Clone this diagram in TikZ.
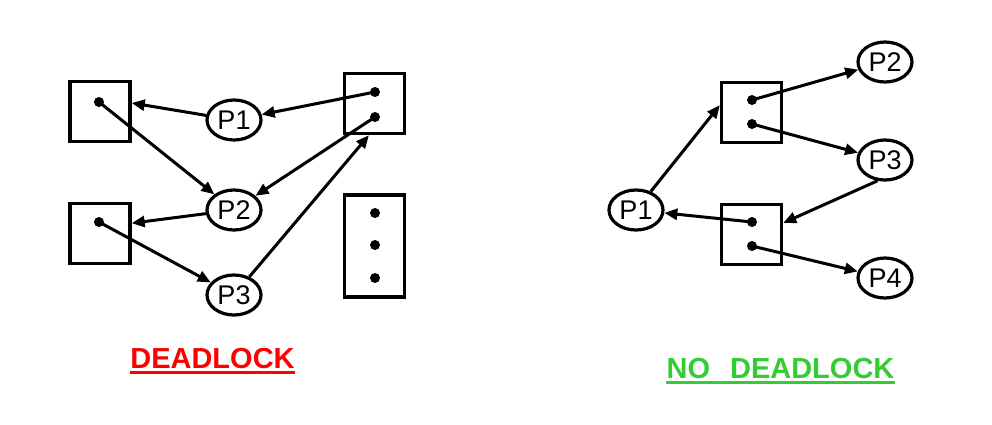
\documentclass[tikz,border=0pt]{standalone}
\usepackage{fontspec}
\setmainfont{Liberation Sans}
\usepackage{xcolor}
\usetikzlibrary{shapes.geometric, arrows.meta, positioning}
\definecolor{dlred}{RGB}{255,0,0}
\definecolor{okgreen}{RGB}{51,204,51}

\begin{document}
\begin{tikzpicture}[
	x=1pt, y=-1pt,
	proc/.style={ellipse, draw, line width=3.2pt, minimum width=54pt, minimum height=40pt, inner sep=0pt, font=\fontsize{27}{27}\selectfont},
	res/.style={rectangle, draw, line width=3.4pt, minimum width=60pt, minimum height=60pt},
	inst/.style={circle, fill, inner sep=0pt, minimum size=10pt},
	arrow/.style={-{Triangle[length=13pt,width=11pt]}, line width=3pt},
	verdict/.style={font=\fontsize{29}{29}\selectfont\bfseries, inner sep=0pt, anchor=base}
	]
	\useasboundingbox (0,0) rectangle (992,424);
	
	% Nodes: deadlock
	\node (r1) [res] at (100,111.5) {};
	\node (r2) [res] at (100,233.5) {};
	\node (r3) [res] at (374.5,103.5) {};
	\node (r4) [res, minimum height=102pt] at (374.5,246) {};
	\node (r1a) [inst] at (99,102) {};
	\node (r2a) [inst] at (99,222) {};
	\node (r3a) [inst] at (375,92) {};
	\node (r3b) [inst] at (375,117) {};
	\node (r4a) [inst] at (375,213) {};
	\node (r4b) [inst] at (375,245) {};
	\node (r4c) [inst] at (375,278) {};
	\node (p1) [proc] at (234,120) {P1};
	\node (p2) [proc] at (234,210) {P2};
	\node (p3) [proc] at (234,295) {P3};
	\node (dl) [verdict, text=dlred] at (212.5,368) {DEADLOCK};
	
	% Nodes: no deadlock
	\node (q1) [res] at (751.5,112.5) {};
	\node (q2) [res] at (751.5,234.5) {};
	\node (q1a) [inst] at (752,100) {};
	\node (q1b) [inst] at (752,124) {};
	\node (q2a) [inst] at (752,222) {};
	\node (q2b) [inst] at (752,246) {};
	\node (s1) [proc] at (636,210) {P1};
	\node (s2) [proc] at (885,62) {P2};
	\node (s3) [proc] at (885,160) {P3};
	\node (s4) [proc] at (885,278) {P4};
	\node (nodl) [verdict, text=okgreen] at (780.5,378) {NO\hspace{20pt}DEADLOCK};
	
	% Connections: deadlock
	\draw [arrow] (p1) -- (r1.15);
	\draw [arrow] (r3a.center) -- (p1);
	\draw [arrow] (r1a.center) -- (p2);
	\draw [arrow] (r3b.center) -- (p2);
	\draw [arrow] (p2) -- (r2.18);
	\draw [arrow] (r2a.center) -- (p3);
	\draw [arrow] (p3) -- (r3.-100);
	\draw [dlred, line width=2.8pt] ([yshift=-4.5pt]dl.base west) -- ([yshift=-4.5pt]dl.base east);
	
	% Connections: no deadlock
	\draw [arrow] (s1) -- (q1.167);
	\draw [arrow] (q1a.center) -- (s2);
	\draw [arrow] (q1b.center) -- (s3);
	\draw [arrow] (s3.-110) -- (q2.20);
	\draw [arrow] (q2a.center) -- (s1);
	\draw [arrow] (q2b.center) -- (s4);
	\draw [okgreen, line width=2.8pt] ([yshift=-4.5pt]nodl.base west) -- ([yshift=-4.5pt]nodl.base east);
	
\end{tikzpicture}
\end{document}
